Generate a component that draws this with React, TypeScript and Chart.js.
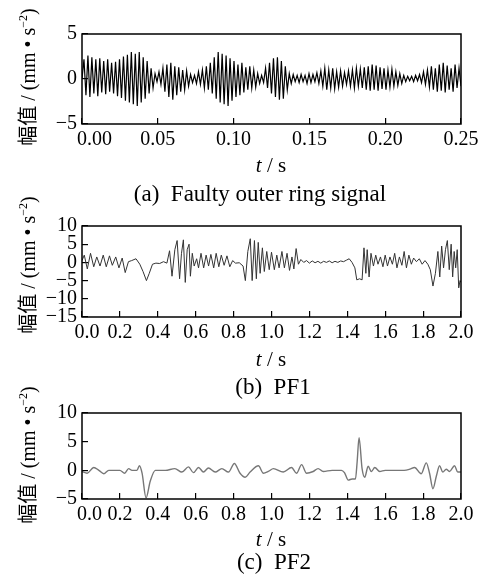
import React, { useEffect, useRef } from 'react';
import { Chart, registerables } from 'chart.js';

Chart.register(...registerables);

const FONT = "'Liberation Serif', 'Times New Roman', serif";
const CJK_FONT = "'Liberation Serif', 'Noto Sans CJK SC', serif";

// (a) Faulty outer ring signal: uniformly sampled extrema, 0 .. 0.25 s
const SPAN_A = 0.25;
const signalA = [
  0,
  2.2, -1.8, 2.6, -2.0, 2.4, -1.6, 2.2, -1.9,
  2.3, -1.5, 2.0, -1.7, 2.2, -1.4, 1.8, -1.6,
  1.9, -1.9, 2.2, -2.1, 2.5, -2.4, 2.7, -2.6,
  3.0, -2.8, 2.8, -3.0, 3.0, -2.6, 2.4, -2.2,
  2.0, -1.6, 1.2, -1.0, 0.6, -0.3, 0.8, -0.6,
  1.2, -1.4, 1.6, -2.0, 1.8, -2.3, 1.4, -1.8,
  1.3, -1.4, 1.0, -1.2, 0.9, -0.8, 0.5, -0.4,
  0.4, -0.5, 0.8, -0.6, 1.0, -1.0, 1.4, -1.2,
  1.8, -1.6, 2.4, -2.2, 3.0, -2.6, 2.8, -2.8,
  2.6, -3.0, 2.3, -2.4, 2.0, -2.0, 1.6, -1.8,
  1.8, -1.5, 1.3, -1.2, 1.4, -1.0, 1.0, -0.9,
  0.6, -0.5, 0.4, -0.4, 1.2, -1.0, 1.8, -1.6,
  2.3, -2.0, 2.4, -2.3, 2.0, -2.2, 1.4, -1.2,
  0.6, -0.5, 0.5, -0.3, 0.4, -0.4, 0.5, -0.3,
  0.4, -0.5, 0.6, -0.4, 0.5, -0.3, 0.7, -0.5,
  0.9, -0.8, 1.2, -1.2, 1.0, -1.0, 1.2, -1.1,
  0.8, -0.9, 0.9, -0.8, 0.7, -0.6, 0.9, -0.8,
  1.0, -1.0, 1.2, -0.8, 1.1, -1.0, 1.3, -1.2,
  1.4, -1.3, 1.6, -1.2, 1.5, -1.3, 1.3, -1.1,
  1.2, -1.2, 1.0, -0.9, 1.1, -0.8, 0.8, -0.7,
  0.6, -0.5, 0.4, -0.3, 0.3, -0.2, 0.3, -0.3,
  0.4, -0.2, 0.5, -0.4, 0.8, -0.6, 1.0, -0.9,
  1.4, -1.2, 1.2, -1.4, 1.6, -1.3, 1.8, -1.5,
  1.5, -1.2, 1.2, -1.4, 1.6, -1.0, 1.2, -0.8,
];

// (b) PF1
const pf1Time = [
  0.000, 0.012, 0.028, 0.045, 0.062, 0.078, 0.095, 0.112, 0.128, 0.145,
  0.160, 0.178, 0.195, 0.212, 0.228, 0.245, 0.262, 0.285, 0.305, 0.322,
  0.340, 0.355, 0.372, 0.390, 0.410, 0.430, 0.448, 0.462, 0.475, 0.490,
  0.502, 0.515, 0.525, 0.535, 0.545, 0.555, 0.565, 0.572, 0.582, 0.592,
  0.605, 0.615, 0.628, 0.642, 0.655, 0.668, 0.680, 0.695, 0.708, 0.722,
  0.735, 0.750, 0.765, 0.780, 0.795, 0.810, 0.830, 0.850, 0.862, 0.875,
  0.888, 0.898, 0.910, 0.920, 0.930, 0.940, 0.952, 0.962, 0.975, 0.988,
  1.000, 1.015, 1.028, 1.040, 1.055, 1.068, 1.082, 1.095, 1.108, 1.118,
  1.130, 1.142, 1.155, 1.170, 1.185, 1.200, 1.215, 1.230, 1.245, 1.260,
  1.275, 1.290, 1.305, 1.320, 1.335, 1.350, 1.365, 1.380, 1.395, 1.410,
  1.425, 1.440, 1.450, 1.465, 1.478, 1.488, 1.498, 1.505, 1.515, 1.525,
  1.538, 1.550, 1.562, 1.575, 1.588, 1.600, 1.612, 1.625, 1.638, 1.650,
  1.662, 1.675, 1.688, 1.700, 1.712, 1.725, 1.738, 1.750, 1.765, 1.780,
  1.795, 1.810, 1.825, 1.838, 1.852, 1.865, 1.878, 1.888, 1.898, 1.908,
  1.918, 1.928, 1.938, 1.948, 1.956, 1.964, 1.972, 1.980, 1.988, 1.995,
  2.000,
];
const pf1Value = [
  0.5, 2.0, -1.8, 2.5, -1.2, 1.5, -1.0, 2.0, -1.2, 1.8,
  -0.8, 1.5, -1.5, 1.2, -2.8, 0.2, 0.5, 1.0, -0.5, -2.5,
  -5.0, -3.0, -0.5, -0.2, -0.3, 0.2, -0.2, 3.2, -3.8, 3.5,
  6.0, -4.5, 2.5, 6.2, -5.5, 3.5, 5.0, -3.8, 2.5, -1.0,
  1.0, -1.5, 2.5, -1.5, 2.0, -1.0, 2.2, -1.5, 2.5, -1.2,
  2.0, -0.8, 1.8, -1.2, 0.5, -0.2, -0.1, -1.0, -5.0, 3.0,
  6.5, -5.0, 6.0, -4.5, 5.5, -3.0, 4.0, -2.5, 3.0, -2.0,
  2.8, -2.0, 2.0, -1.5, 3.0, -1.5, 2.5, -2.2, 1.5, -1.8,
  3.8, -0.5, 0.8, 0.0, 0.5, -0.2, 0.4, -0.1, 0.3, -0.2,
  0.3, 0.0, 0.4, -0.1, 0.3, 0.0, 0.4, 0.2, 0.6, 1.0,
  0.0, -1.5, -4.8, -4.5, -4.8, 4.0, -3.0, 3.5, -4.0, 2.5,
  -1.0, 2.0, -0.5, 1.5, -1.2, 2.0, -1.0, 1.5, -0.5, 2.5,
  -1.5, 1.5, -0.8, 3.0, -1.5, 2.0, -0.5, 1.2, 0.2, 1.0,
  -0.5, 0.5, -0.5, -2.0, -6.5, -3.0, 3.0, -4.0, 4.5, -1.5,
  3.5, 6.0, -2.0, 5.0, -4.0, 3.0, -1.5, 3.5, -7.0, -5.0,
  -5.5,
];

// (c) PF2
const pf2Time = [
  0.000, 0.027, 0.062, 0.089, 0.115, 0.141, 0.170, 0.200, 0.225, 0.246,
  0.264, 0.290, 0.303, 0.317, 0.338, 0.360, 0.387, 0.440, 0.490, 0.527,
  0.562, 0.588, 0.615, 0.641, 0.667, 0.703, 0.738, 0.773, 0.804, 0.834,
  0.861, 0.887, 0.931, 0.957, 0.983, 1.010, 1.062, 1.106, 1.132, 1.159,
  1.185, 1.220, 1.246, 1.273, 1.320, 1.369, 1.385, 1.405, 1.425, 1.443,
  1.452, 1.462, 1.478, 1.492, 1.510, 1.527, 1.545, 1.571, 1.600, 1.700,
  1.730, 1.755, 1.790, 1.817, 1.834, 1.852, 1.870, 1.887, 1.904, 1.922,
  1.939, 1.966, 1.983, 2.000,
];
const pf2Value = [
  -0.2, -0.5, 0.5, 0.0, -0.6, 0.0, 0.0, 0.0, -0.5, 0.3,
  0.0, 0.0, 0.8, -0.5, -4.8, -1.9, 0.0, 0.0, 0.3, -0.3,
  0.6, -0.4, 0.5, -0.3, 0.4, -0.3, 0.3, -0.3, 1.2, -0.5,
  -1.2, -0.3, 0.8, -0.5, -0.2, 0.3, -0.3, 0.5, -0.5, 1.0,
  -0.5, -0.2, 0.3, -0.2, 0.0, 0.0, -0.4, -1.7, -1.5, -1.5,
  1.5, 5.7, 0.3, -1.2, 0.7, -0.2, 0.5, -0.2, 0.0, 0.0,
  0.2, 0.5, -0.6, 1.3, -0.5, -3.2, -1.0, 0.8, -0.3, 0.2,
  -0.2, 0.8, -0.3, -0.3,
];

const xTicksA = { min: 0, max: 0.25, step: 0.05, digits: 2, firstShift: 5 };
const xTicksB = { min: 0, max: 2, step: 0.2, digits: 1, firstShift: 2 };
const xTicksC = { min: 0, max: 2, step: 0.2, digits: 1, firstShift: 3 };
const yTicksA = { min: -5, max: 5, step: 5 };
const yTicksB = { min: -15, max: 10, step: 5 };
const yTicksC = { min: -5, max: 10, step: 5 };

const framePlugin = {
  id: 'frame',
  afterDatasetsDraw(chart: any) {
    const { ctx, chartArea: a } = chart;
    ctx.save();
    ctx.strokeStyle = '#000';
    ctx.lineWidth = 1.5;
    ctx.strokeRect(a.left, a.top, a.right - a.left, a.bottom - a.top);
    ctx.restore();
  },
};

const fmtY = (v: number) => (v < 0 ? '\u2212' + Math.abs(v) : String(v));

function buildChart(canvas: HTMLCanvasElement, spec: any) {
  const { xt, yt, points, color, width, smooth, padTop, padRight, xHeight } = spec;
  return new Chart(canvas, {
    type: 'line',
    data: {
      datasets: [
        {
          data: points,
          borderColor: color,
          borderWidth: width,
          pointRadius: 0,
          fill: false,
          tension: smooth ? 0.4 : 0,
          cubicInterpolationMode: smooth ? 'monotone' : 'default',
        },
      ],
    },
    options: {
      responsive: false,
      animation: false,
      devicePixelRatio: 1,
      layout: { padding: { left: 0, right: padRight, top: padTop, bottom: 0 } },
      plugins: { legend: { display: false }, tooltip: { enabled: false }, title: { display: false } },
      scales: {
        x: {
          type: 'linear',
          min: xt.min,
          max: xt.max,
          ticks: {
            stepSize: xt.step,
            autoSkip: false,
            maxRotation: 0,
            minRotation: 0,
            padding: 10,
            color: '#000',
            font: { family: FONT, size: 20 },
            callback: (v: number, i: number) =>
              (i === 0 ? ' '.repeat(xt.firstShift) : '') + Number(v).toFixed(xt.digits),
          },
          grid: { drawOnChartArea: false, drawTicks: true, tickLength: -6, color: '#000', lineWidth: 1.2 },
          border: { display: false },
          afterFit: (s: any) => {
            s.height = xHeight;
            s.paddingLeft = 0;
            s.paddingRight = 0;
          },
        },
        y: {
          type: 'linear',
          min: yt.min,
          max: yt.max,
          ticks: {
            stepSize: yt.step,
            autoSkip: false,
            padding: 11,
            color: '#000',
            font: { family: FONT, size: 20 },
            callback: (v: number) => fmtY(Number(v)),
          },
          grid: { drawOnChartArea: false, drawTicks: true, tickLength: -6, color: '#000', lineWidth: 1.2 },
          border: { display: false },
          afterFit: (s: any) => {
            s.width = 82;
          },
        },
      },
    },
    plugins: [framePlugin],
  } as any);
}

const abs = (extra: any) => ({ position: 'absolute' as const, whiteSpace: 'pre' as const, ...extra });

function YLabel({ cy }: { cy: number }) {
  return (
    <div
      style={abs({
        left: 28,
        top: cy,
        transform: 'translate(-50%, -50%) rotate(-90deg)',
        font: `20px ${CJK_FONT}`,
        lineHeight: '22px',
        color: '#000',
      })}
    >
      幅值 / (mm • s<span style={{ fontSize: 12, verticalAlign: 'top', lineHeight: '12px' }}>−2</span>)
    </div>
  );
}

function XTitle({ cy }: { cy: number }) {
  return (
    <div style={abs({ left: 271, top: cy, transform: 'translate(-50%, -50%)', font: `21px ${FONT}`, lineHeight: '24px' })}>
      <i>t</i> / s
    </div>
  );
}

function Caption({ cx, cy, text }: { cx: number; cy: number; text: string }) {
  return (
    <div style={abs({ left: cx, top: cy, transform: 'translate(-50%, -50%)', font: `23px ${FONT}`, lineHeight: '26px' })}>
      {text}
    </div>
  );
}

export default function App() {
  const refA = useRef<HTMLCanvasElement>(null);
  const refB = useRef<HTMLCanvasElement>(null);
  const refC = useRef<HTMLCanvasElement>(null);

  useEffect(() => {
    document.body.style.margin = '0';
    const stepA = SPAN_A / (signalA.length - 1);
    const ptsA = signalA.map((v, i) => ({ x: i * stepA, y: v }));
    const ptsB = pf1Time.map((t, i) => ({ x: t, y: pf1Value[i] }));
    const ptsC = pf2Time.map((t, i) => ({ x: t, y: pf2Value[i] }));
    const charts = [
      buildChart(refA.current!, { xt: xTicksA, yt: yTicksA, points: ptsA, color: '#000', width: 1.2, smooth: false, padTop: 34, padRight: 22, xHeight: 36 }),
      buildChart(refB.current!, { xt: xTicksB, yt: yTicksB, points: ptsB, color: '#333', width: 1, smooth: false, padTop: 31, padRight: 22, xHeight: 28 }),
      buildChart(refC.current!, { xt: xTicksC, yt: yTicksC, points: ptsC, color: '#777', width: 1.4, smooth: true, padTop: 19, padRight: 22, xHeight: 31 }),
    ];
    return () => charts.forEach((c) => c.destroy());
  }, []);

  return (
    <div style={{ position: 'relative', width: 483, height: 578, background: '#fff', overflow: 'hidden' }}>
      <canvas ref={refA} width={483} height={160} style={{ position: 'absolute', left: 0, top: 0, width: 483, height: 160 }} />
      <canvas ref={refB} width={483} height={150} style={{ position: 'absolute', left: 0, top: 195, width: 483, height: 150 }} />
      <canvas ref={refC} width={483} height={140} style={{ position: 'absolute', left: 0, top: 390, width: 483, height: 140 }} />
      <YLabel cy={77} />
      <YLabel cy={265} />
      <YLabel cy={455} />
      <XTitle cy={165} />
      <XTitle cy={359} />
      <XTitle cy={539} />
      <Caption cx={260} cy={194} text="(a)  Faulty outer ring signal" />
      <Caption cx={273} cy={387} text="(b)  PF1" />
      <Caption cx={274} cy={562} text="(c)  PF2" />
    </div>
  );
}
